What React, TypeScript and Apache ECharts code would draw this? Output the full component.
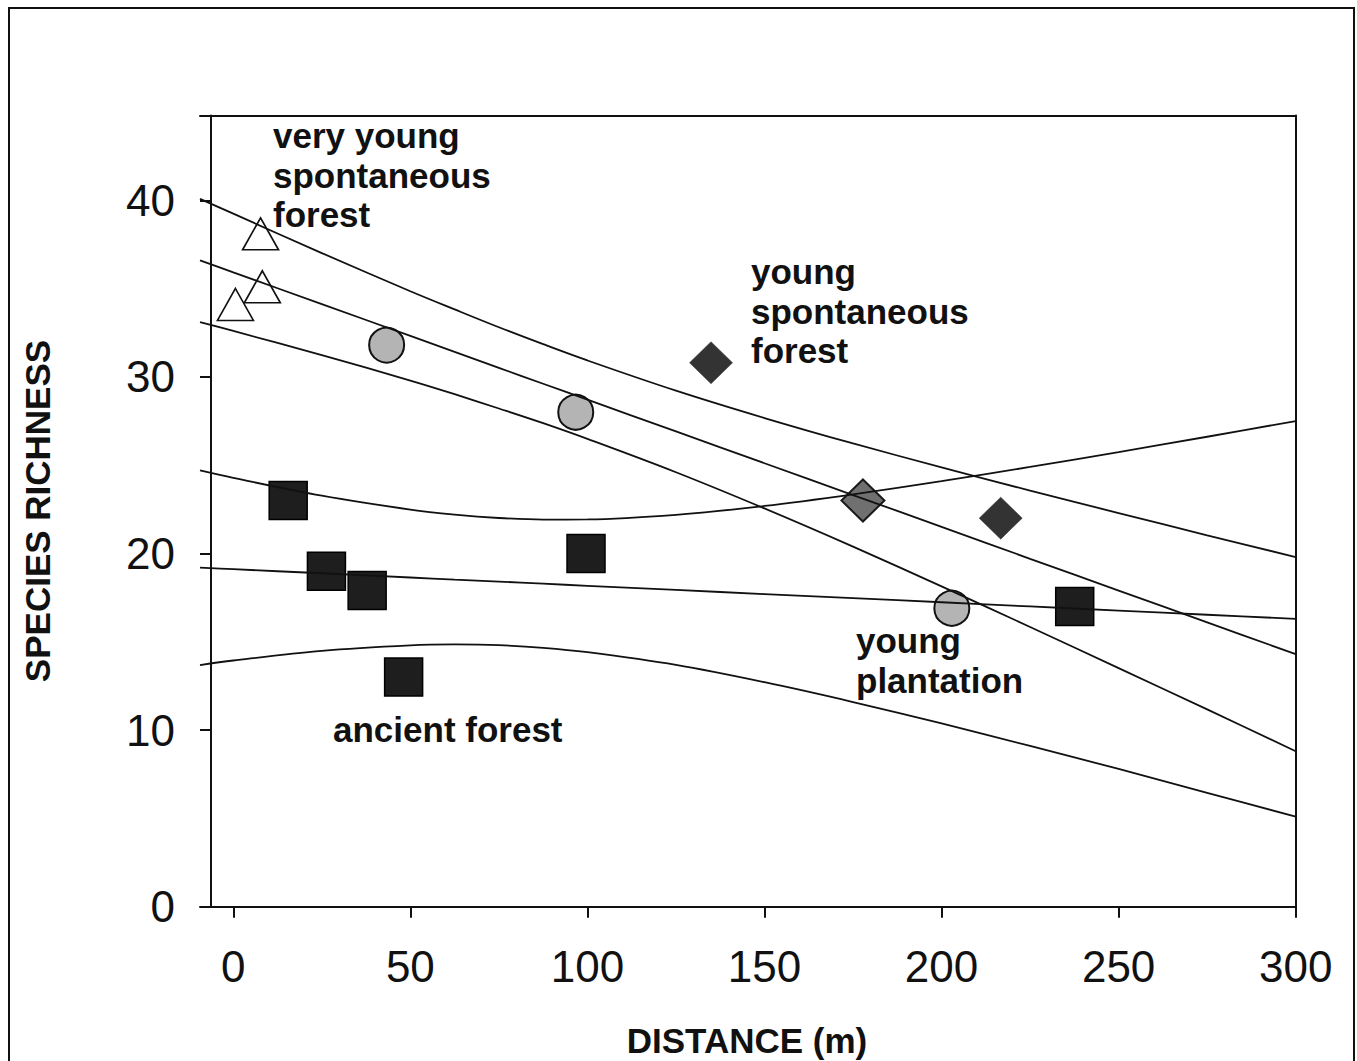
import React, { useEffect, useRef } from "react";
import * as echarts from "echarts";

// ---- data ----
const xTickValues = [0, 50, 100, 150, 200, 250, 300];
const yTickValues = [0, 10, 20, 30, 40];

const verySpontaneous = [[0.6, 34.1], [8.2, 35.1], [7.7, 38.1]];
const youngPlantation = [[43.3, 31.8], [96.7, 28.0], [202.9, 16.9]];
const youngSpontaneous = [[134.9, 30.8], [177.8, 23.0], [216.7, 22.0]];
const ancientForest = [[15.5, 23.0], [26.3, 19.0], [37.8, 17.9], [48.1, 13.0], [99.6, 20.0], [237.6, 17.0]];

const curveX = [-9.4, 0, 25, 50, 62.5, 75, 87.5, 100, 125, 150, 175, 200, 225, 250, 275, 300];
const declineUpper = [40.08, 39.24, 37.01, 34.85, 33.82, 32.81, 31.85, 30.93, 29.22, 27.67, 26.23, 24.88, 23.56, 22.29, 21.03, 19.8];
const declineFit = [36.6, 35.92, 34.12, 32.32, 31.42, 30.51, 29.61, 28.71, 26.91, 25.11, 23.31, 21.51, 19.7, 17.9, 16.1, 14.3];
const declineLower = [33.1, 32.6, 31.23, 29.79, 29.02, 28.21, 27.38, 26.49, 24.6, 22.55, 20.39, 18.14, 15.84, 13.51, 11.17, 8.8];
const ancientUpper = [24.7, 24.28, 23.27, 22.48, 22.2, 22.01, 21.92, 21.93, 22.19, 22.69, 23.35, 24.1, 24.9, 25.74, 26.61, 27.5];
const ancientFit = [19.2, 19.11, 18.88, 18.64, 18.52, 18.41, 18.29, 18.17, 17.94, 17.7, 17.47, 17.24, 17.0, 16.77, 16.53, 16.3];
const ancientLower = [13.68, 13.94, 14.49, 14.8, 14.85, 14.81, 14.66, 14.41, 13.69, 12.71, 11.59, 10.38, 9.1, 7.8, 6.45, 5.1];

const FONT = "'Liberation Sans', Arial, Helvetica, sans-serif";

export default function App() {
  const ref = useRef<HTMLDivElement>(null);

  useEffect(() => {
    if (!ref.current) return;
    const chart = echarts.init(ref.current, null, { renderer: "svg" });

    const curve = (ys: number[]) => ({
      type: "line",
      data: curveX.map((x, i) => [x, ys[i]]),
      showSymbol: false,
      smooth: 0.35,
      z: 3,
      silent: true,
      lineStyle: { color: "#111", width: 1.8 },
    });

    const axisLineStyle = { color: "#111", width: 2 };

    chart.setOption({
      animation: false,
      backgroundColor: "#fff",
      grid: { left: 200, right: 61.3, top: 115.5, bottom: 154.3 },
      xAxis: [
        {
          type: "value",
          min: -9.4,
          max: 300,
          position: "bottom",
          axisLine: { show: true, onZero: false, lineStyle: axisLineStyle },
          axisTick: { show: true, length: 11, inside: false, customValues: xTickValues, lineStyle: axisLineStyle },
          axisLabel: { customValues: xTickValues, fontSize: 44, margin: 38, color: "#111", fontFamily: FONT },
          splitLine: { show: false },
        },
        {
          type: "value",
          min: -9.4,
          max: 300,
          position: "top",
          axisLine: { show: true, onZero: false, lineStyle: axisLineStyle },
          axisTick: { show: false },
          axisLabel: { show: false },
          splitLine: { show: false },
        },
      ],
      yAxis: [
        {
          type: "value",
          min: 0,
          max: 44.8,
          position: "left",
          offset: -11,
          axisLine: { show: true, onZero: false, lineStyle: axisLineStyle },
          axisTick: { show: true, length: 11, inside: false, customValues: yTickValues, lineStyle: axisLineStyle },
          axisLabel: { customValues: yTickValues, fontSize: 44, margin: 36, color: "#111", fontFamily: FONT },
          splitLine: { show: false },
        },
        {
          type: "value",
          min: 0,
          max: 44.8,
          position: "right",
          axisLine: { show: true, onZero: false, lineStyle: axisLineStyle },
          axisTick: { show: false },
          axisLabel: { show: false },
          splitLine: { show: false },
        },
      ],
      series: [
        {
          type: "scatter",
          data: ancientForest,
          symbol: "rect",
          symbolSize: 38,
          z: 2,
          itemStyle: { color: "#1e1e1e", borderColor: "#000", borderWidth: 1.5, opacity: 1 },
        },
        {
          type: "scatter",
          data: youngPlantation,
          symbol: "circle",
          symbolSize: 35,
          z: 2,
          itemStyle: { color: "#b4b4b4", borderColor: "#111", borderWidth: 2, opacity: 1 },
        },
        {
          type: "scatter",
          data: youngSpontaneous.map((p, i) =>
            i === 1
              ? { value: p, itemStyle: { color: "#707070", borderColor: "#1a1a1a", borderWidth: 2, opacity: 1 } }
              : { value: p }
          ),
          symbol: "diamond",
          symbolSize: [43, 42],
          z: 2,
          itemStyle: { color: "#333333", borderColor: "#333333", borderWidth: 0.5, opacity: 1 },
        },
        {
          type: "scatter",
          data: verySpontaneous,
          symbol: "triangle",
          symbolSize: [36, 32],
          z: 2,
          itemStyle: { color: "#ffffff", borderColor: "#111", borderWidth: 1.6, opacity: 1 },
        },
        curve(declineUpper),
        curve(declineFit),
        curve(declineLower),
        curve(ancientUpper),
        curve(ancientFit),
        curve(ancientLower),
      ],
      graphic: [
        {
          type: "rect",
          shape: { x: 9, y: 8, width: 1345, height: 1100 },
          style: { fill: "none", stroke: "#111", lineWidth: 2 },
          silent: true,
          z: 10,
        },
        {
          type: "text",
          x: 37,
          y: 511,
          rotation: Math.PI / 2,
          style: {
            text: "SPECIES RICHNESS",
            fontSize: 35,
            fontWeight: "bold",
            fontFamily: FONT,
            fill: "#111",
            align: "center",
            verticalAlign: "middle",
          },
        },
        {
          type: "text",
          x: 747,
          y: 1040,
          style: {
            text: "DISTANCE (m)",
            fontSize: 35,
            fontWeight: "bold",
            fontFamily: FONT,
            fill: "#111",
            align: "center",
            verticalAlign: "middle",
          },
        },
        {
          type: "text",
          x: 273,
          y: 116,
          style: {
            text: "very young\nspontaneous\nforest",
            fontSize: 35,
            lineHeight: 39.5,
            fontWeight: "bold",
            fontFamily: FONT,
            fill: "#111",
            align: "left",
            verticalAlign: "top",
          },
        },
        {
          type: "text",
          x: 751,
          y: 252,
          style: {
            text: "young\nspontaneous\nforest",
            fontSize: 35,
            lineHeight: 39.5,
            fontWeight: "bold",
            fontFamily: FONT,
            fill: "#111",
            align: "left",
            verticalAlign: "top",
          },
        },
        {
          type: "text",
          x: 856,
          y: 621,
          style: {
            text: "young\nplantation",
            fontSize: 35,
            lineHeight: 39.5,
            fontWeight: "bold",
            fontFamily: FONT,
            fill: "#111",
            align: "left",
            verticalAlign: "top",
          },
        },
        {
          type: "text",
          x: 333,
          y: 729,
          style: {
            text: "ancient forest",
            fontSize: 35,
            fontWeight: "bold",
            fontFamily: FONT,
            fill: "#111",
            align: "left",
            verticalAlign: "middle",
          },
        },
      ],
    });

    return () => chart.dispose();
  }, []);

  return (
    <div
      ref={ref}
      style={{ position: "fixed", left: 0, top: 0, width: 1357, height: 1061, background: "#fff" }}
    />
  );
}
